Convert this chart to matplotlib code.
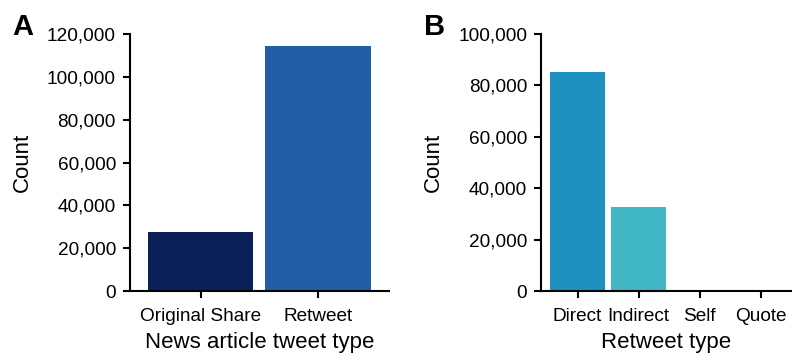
import matplotlib
matplotlib.use("Agg")
import matplotlib.pyplot as plt
from matplotlib.ticker import FuncFormatter

plt.rcParams['font.family'] = ['Liberation Sans', 'DejaVu Sans']

# panel A: news article tweet types
tipos_a = ['Original Share', 'Retweet']
conteo_a = [27500, 114300]
colores_a = ['#0b1f58', '#225ea8']

# panel B: retweet types
tipos_b = ['Direct', 'Indirect', 'Self', 'Quote']
conteo_b = [85100, 32700, 350, 120]
colores_b = ['#1f91c0', '#41b6c4', '#5f9a6a', '#c7e9b4']

fig = plt.figure(figsize=(7.92, 3.53), dpi=100)
ax_a = fig.add_axes([0.164, 0.1756, 0.327, 0.728])
ax_b = fig.add_axes([0.683, 0.1756, 0.316, 0.728])

miles = FuncFormatter(lambda v, p: f"{int(v):,}")


def estilo(ax, ylim, xlim, xlabel):
    ax.set_ylim(*ylim)
    ax.set_xlim(*xlim)
    ax.yaxis.set_major_formatter(miles)
    ax.spines['top'].set_visible(False)
    ax.spines['right'].set_visible(False)
    ax.spines['left'].set_linewidth(1.5)
    ax.spines['bottom'].set_linewidth(1.5)
    ax.tick_params(axis='both', length=5, width=1.5, labelsize=13.7)
    ax.tick_params(axis='x', pad=7)
    ax.tick_params(axis='y', pad=5)
    ax.set_ylabel('Count', fontsize=16, labelpad=10)
    ax.set_xlabel(xlabel, fontsize=16, labelpad=5)


ax_a.bar(range(len(tipos_a)), conteo_a, width=0.9, color=colores_a)
ax_a.set_xticks(range(len(tipos_a)))
ax_a.set_xticklabels(tipos_a)
ax_a.set_yticks(range(0, 120001, 20000))
estilo(ax_a, (0, 120000), (-0.6, 1.6), 'News article tweet type')

ax_b.bar(range(len(tipos_b)), conteo_b, width=0.9, color=colores_b)
ax_b.set_xticks(range(len(tipos_b)))
ax_b.set_xticklabels(tipos_b)
ax_b.set_yticks(range(0, 100001, 20000))
estilo(ax_b, (0, 100000), (-0.6, 3.5), 'Retweet type')

# letras de panel
fig.text(0.015, 0.90, 'A', fontsize=21, fontweight='bold')
fig.text(0.535, 0.90, 'B', fontsize=21, fontweight='bold')

fig.savefig('out.png', dpi=100)
